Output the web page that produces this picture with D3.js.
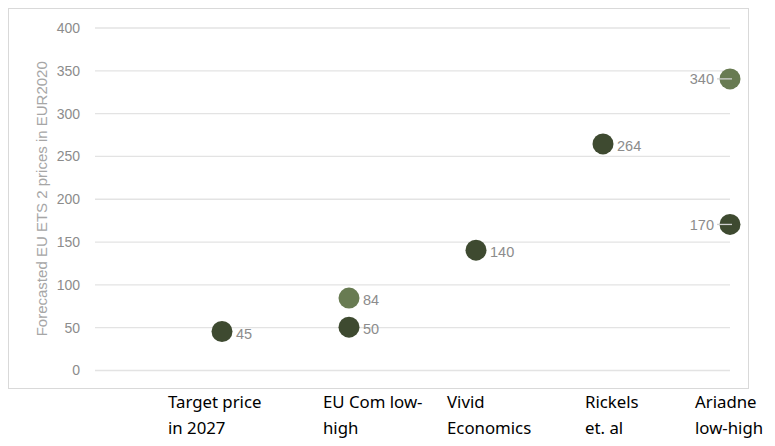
<!DOCTYPE html>
<html>
<head>
<meta charset="utf-8">
<script src="https://cdn.jsdelivr.net/npm/d3@7"></script>
<style>
  html, body { margin: 0; padding: 0; background: #fff; }
  svg { display: block; }
</style>
</head>
<body>
<svg id="chart" width="775" height="446"></svg>
<script>
// ---- data ----
const categories = [["Target price", "in 2027"], ["EU Com low-", "high"], ["Vivid", "Economics"], ["Rickels", "et. al"], ["Ariadne", "low-high"]];
const categoryX = [1, 2, 3, 4, 5];
const lowValues = [45, 50, 140, 264, 170];
const highValues = [null, 84, null, null, 340];
const labelSide = ["right", "right", "right", "right", "left"];
const yTicks = [0, 50, 100, 150, 200, 250, 300, 350, 400];
const yTitle = "Forecasted EU ETS 2 prices in EUR2020";
// label left offsets relative to the point (text boxes in the original)
const catLabelOffset = [-54, -26, -29, -18, -35];

const svg = d3.select("#chart");

// outer border
svg.append("rect").attr("x", 8.5).attr("y", 8.5).attr("width", 740).attr("height", 380)
  .attr("fill", "#fff").attr("stroke", "#d9d9d9").attr("stroke-width", 1);

const x = d3.scaleLinear().domain([0, 5]).range([95, 730]);
const y = d3.scaleLinear().domain([0, 400]).range([370, 27.5]);

// gridlines
const gridG = svg.append("g").attr("transform", "translate(95,0)")
  .call(d3.axisLeft(y).tickValues(yTicks).tickSize(-(730 - 95)).tickFormat(""));
gridG.select(".domain").remove();
gridG.selectAll("line").attr("stroke", "#e3e3e3").attr("stroke-width", 1.3);

// y tick labels
const axG = svg.append("g").attr("transform", "translate(80,0)")
  .call(d3.axisLeft(y).tickValues(yTicks).tickSize(0).tickPadding(0));
axG.select(".domain").remove();
axG.selectAll("text").attr("fill", "#8c8c8c").attr("font-family", "'Liberation Sans', Arial, sans-serif")
  .attr("font-size", "14px").attr("dy", "0.35em");

// y title
svg.append("text")
  .attr("transform", `translate(47,${(y(0) + y(400)) / 2}) rotate(-90)`)
  .attr("text-anchor", "middle")
  .attr("fill", "#a6a6a6")
  .attr("font-family", "'Liberation Sans', Arial, sans-serif")
  .attr("font-size", "15px")
  .text(yTitle);

// points
const points = [];
categoryX.forEach((cx, i) => {
  if (lowValues[i] != null) points.push({ cx, v: lowValues[i], color: "#3e4a30", side: labelSide[i] });
  if (highValues[i] != null) points.push({ cx, v: highValues[i], color: "#687b52", side: labelSide[i] });
});

const pg = svg.append("g");
pg.selectAll("circle").data(points).enter().append("circle")
  .attr("cx", d => x(d.cx)).attr("cy", d => y(d.v)).attr("r", 10.5)
  .attr("fill", d => d.color);

// leader lines for left labels
pg.selectAll("line.leader").data(points.filter(d => d.side === "left")).enter().append("line")
  .attr("class", "leader")
  .attr("x1", d => x(d.cx) - 13).attr("x2", d => x(d.cx) + 2)
  .attr("y1", d => y(d.v)).attr("y2", d => y(d.v))
  .attr("stroke", "#d0d0d0").attr("stroke-width", 1.3);

pg.selectAll("text.dl").data(points).enter().append("text")
  .attr("class", "dl")
  .attr("x", d => d.side === "left" ? x(d.cx) - 16 : x(d.cx) + 14)
  .attr("y", d => y(d.v) + (d.side === "left" ? 0 : 2))
  .attr("dy", "0.35em")
  .attr("text-anchor", d => d.side === "left" ? "end" : "start")
  .attr("fill", "#8c8c8c")
  .attr("font-family", "'Liberation Sans', Arial, sans-serif")
  .attr("font-size", "14.5px")
  .text(d => d.v);

// category labels (below chart box)
const cg = svg.append("g");
categories.forEach((lines, i) => {
  const t = cg.append("text")
    .attr("x", x(categoryX[i]) + catLabelOffset[i])
    .attr("y", 408)
    .attr("fill", "#000")
    .attr("font-family", "'Noto Sans', sans-serif")
    .attr("font-size", "16.8px");
  lines.forEach((ln, j) => {
    t.append("tspan").attr("x", x(categoryX[i]) + catLabelOffset[i]).attr("dy", j === 0 ? 0 : 26).text(ln);
  });
});
</script>
</body>
</html>
